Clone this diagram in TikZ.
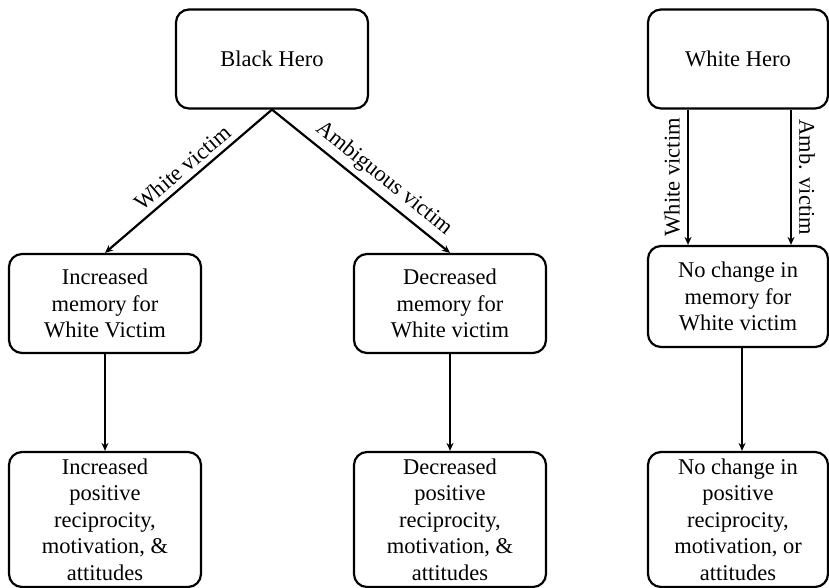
\documentclass[tikz,border=0pt]{standalone}
\usepackage{fontspec}
\setmainfont{Liberation Serif}
\usetikzlibrary{arrows.meta}
\begin{document}
\begin{tikzpicture}[x=1pt,y=-1pt,>={Stealth[length=8pt,width=7pt]},line width=2.2pt,
		font=\rmfamily\fontsize{22.5}{26.5}\selectfont,
		box/.style={draw,rounded corners=13pt,align=center,inner sep=0pt,minimum width=192pt,minimum height=99pt},
		tallbox/.style={box,minimum height=135pt},
		lab/.style={inner sep=5pt}]
	\useasboundingbox (0,0) rectangle (829,588);
	% Black Hero column
	\node[box] (bh) at (272,59) {Black Hero};
	\node[box] (incmem) at (105,303.5) {Increased\\memory for\\White Victim};
	\node[box] (decmem) at (450,303.5) {Decreased\\memory for\\White victim};
	\node[tallbox] (incpos) at (105,519.5) {Increased\\positive\\reciprocity,\\motivation, \&\\attitudes};
	\node[tallbox] (decpos) at (450,519.5) {Decreased\\positive\\reciprocity,\\motivation, \&\\attitudes};
	\draw[->] (bh.south)--node[lab,sloped,above,pos=.48]{White victim}(incmem.north);
	\draw[->] (bh.south)--node[lab,sloped,above,pos=.57]{Ambiguous victim}(decmem.north);
	\draw[->] (incmem)--(incpos);
	\draw[->] (decmem)--(decpos);
	% White Hero column
	\node[box,minimum width=180pt] (wh) at (738,59) {White Hero};
	\node[box,minimum width=180pt,minimum height=101pt] (nomem) at (738,296.5) {No change in\\memory for\\White victim};
	\node[tallbox,minimum width=180pt] (nopos) at (738,519.5) {No change in\\positive\\reciprocity,\\motivation, or\\attitudes};
	\draw[->] ([xshift=-50pt]wh.south)--node[rotate=90,anchor=south,inner sep=7pt]{White victim}([xshift=-50pt]nomem.north);
	\draw[->] ([xshift=53pt]wh.south)--node[rotate=-90,anchor=south,inner sep=7pt]{Amb. victim}([xshift=53pt]nomem.north);
	\draw[->] ([xshift=4pt]nomem.south)--([xshift=4pt]nopos.north);
\end{tikzpicture}
\end{document}
